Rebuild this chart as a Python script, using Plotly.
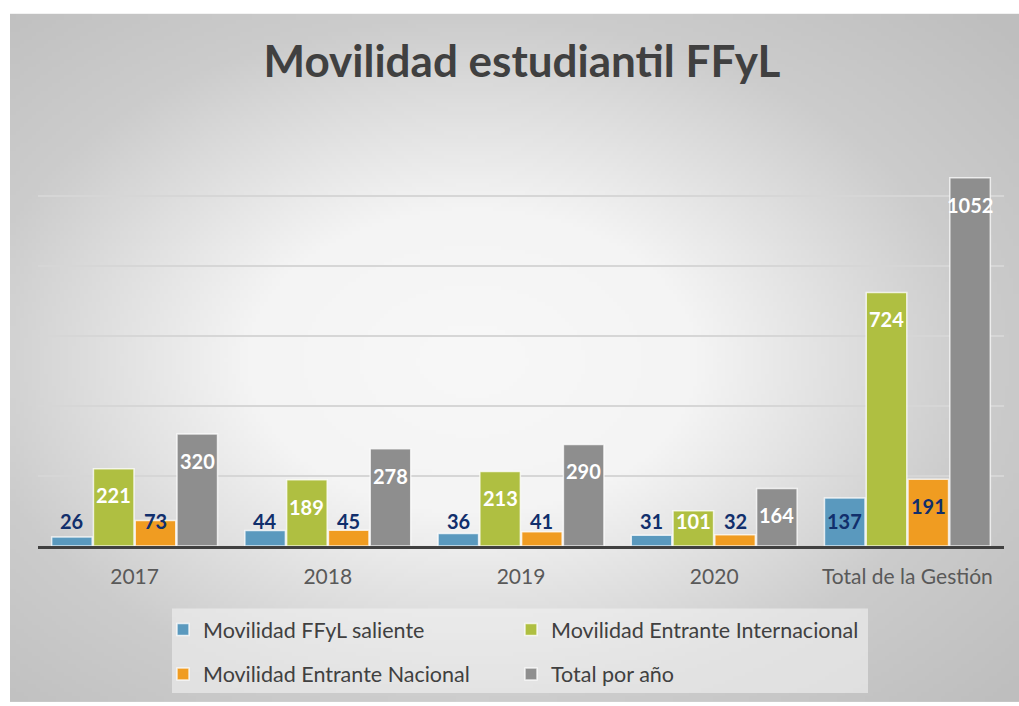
import base64
import struct
import zlib

import numpy as np
import plotly.graph_objects as go

# --- data -------------------------------------------------------------------
categories = ["2017", "2018", "2019", "2020", "Total de la Gestión"]
saliente = [26, 44, 36, 31, 137]
entrante_internacional = [221, 189, 213, 101, 724]
entrante_nacional = [73, 45, 41, 32, 191]
total_por_anio = [320, 278, 290, 164, 1052]

series_names = [
    "Movilidad FFyL saliente",
    "Movilidad Entrante Internacional",
    "Movilidad Entrante Nacional",
    "Total por año",
]
series_values = [saliente, entrante_internacional, entrante_nacional, total_por_anio]

# --- style ------------------------------------------------------------------
COLORS = ["#5a99be", "#afbf41", "#f09c21", "#8e8e8e"]
LABEL_COLORS = ["#112f6c", "#ffffff", "#112f6c", "#ffffff"]
FONT = "Lato"
W, H = 1019, 706
M_L, M_R, M_T, M_B = 38, 15, 126, 157
PLOT_W, PLOT_H = W - M_L - M_R, H - M_T - M_B
Y_MAX = 1200
BARGAP = 0.135


def px_x(px):
    return (px - M_L) / PLOT_W


def px_y(py):
    return (H - M_B - py) / PLOT_H


def gradient_png(w, h, cx, cy, ax, ay):
    """Radial grey background, encoded as a small PNG data URI."""
    yy, xx = np.mgrid[0:h, 0:w]
    r = np.hypot((xx - cx) / ax, (yy - cy) / ay)
    v = np.interp(r, [0, 0.45, 1.0, 1.45], [248, 244, 204, 190]).astype(np.uint8)
    raw = b"".join(b"\x00" + bytes(np.repeat(row, 3)) for row in v)

    def chunk(tag, data):
        c = tag + data
        return struct.pack(">I", len(data)) + c + struct.pack(">I", zlib.crc32(c) & 0xFFFFFFFF)

    png = b"\x89PNG\r\n\x1a\n"
    png += chunk(b"IHDR", struct.pack(">IIBBBBB", w, h, 8, 2, 0, 0, 0))
    png += chunk(b"IDAT", zlib.compress(raw, 9))
    png += chunk(b"IEND", b"")
    return "data:image/png;base64," + base64.b64encode(png).decode()


fig = go.Figure()

for i, (name, vals) in enumerate(zip(series_names, series_values)):
    fig.add_trace(go.Bar(
        x=categories, y=vals,
        name=name,
        marker=dict(color=COLORS[i], line=dict(color="rgba(255,255,255,0.75)", width=1.5)),
        legend="legend" if i < 2 else "legend2",
        hovertemplate="%{x}<br>" + name + ": %{y}<extra></extra>",
    ))

# data labels, "inside end" like the original spreadsheet chart
k = PLOT_H / Y_MAX
slot = (1 - BARGAP) / len(series_values)
annotations = []
for i, vals in enumerate(series_values):
    for j, v in enumerate(vals):
        annotations.append(dict(
            x=j + (i - 1.5) * slot, y=max(v - 27 / k, 25 / k),
            xref="x", yref="y", text=str(v), showarrow=False,
            yanchor="middle", xanchor="center",
            font=dict(family=FONT, size=20, color=LABEL_COLORS[i], weight="bold"),
        ))

# chart area background (gradient) and legend box
step = 4
x0, y0 = 10, 13
img_w, img_h = (W - x0) // step, (H - y0) // step
fig.add_layout_image(dict(
    source=gradient_png(img_w, img_h, (470 - x0) / step, (360 - y0) / step,
                        505 / step, 346 / step),
    xref="paper", yref="paper",
    x=px_x(x0), y=px_y(y0), sizex=px_x(W) - px_x(x0), sizey=px_y(y0) - px_y(H),
    xanchor="left", yanchor="top", sizing="stretch", layer="below",
))
fig.add_shape(
    type="rect", xref="paper", yref="paper",
    x0=px_x(172), x1=px_x(868), y0=px_y(697), y1=px_y(612),
    fillcolor="rgba(242,242,242,0.6)", line_width=0, layer="below",
)

legend_common = dict(
    orientation="h", xanchor="left", yanchor="middle",
    bgcolor="rgba(0,0,0,0)", itemwidth=30,
    entrywidth=303, entrywidthmode="pixels",
    font=dict(family=FONT, size=21.5, color="#404040"),
    itemclick=False, itemdoubleclick=False,
)

fig.update_layout(
    width=W, height=H,
    margin=dict(l=M_L, r=M_R, t=M_T, b=M_B),
    paper_bgcolor="white", plot_bgcolor="rgba(0,0,0,0)",
    barmode="group", bargap=BARGAP, bargroupgap=0.03,
    title=dict(
        text="<b>Movilidad estudiantil FFyL</b>",
        x=522 / W, xanchor="center", y=1 - 62 / H, yanchor="middle",
        font=dict(family=FONT, size=44, color="#404040"),
    ),
    xaxis=dict(
        type="category", showgrid=False,
        showline=True, linecolor="#404040", linewidth=3,
        ticks="outside", ticklen=10, tickcolor="rgba(0,0,0,0)",
        tickfont=dict(family=FONT, size=21, color="#595959"),
    ),
    yaxis=dict(
        range=[0, Y_MAX], dtick=200, showticklabels=False,
        gridcolor="#d6d6d6", gridwidth=2, zeroline=False, showline=False,
    ),
    legend=dict(x=px_x(163), y=px_y(633), **legend_common),
    legend2=dict(x=px_x(163), y=px_y(678), **legend_common),
    annotations=annotations,
    font=dict(family=FONT, color="#404040"),
)

# the page body would otherwise add an 8px margin around the figure
fig.write_html(
    "out.html",
    config={"displayModeBar": False},
    post_script="document.body.style.margin='0';document.body.style.overflow='hidden';",
)
